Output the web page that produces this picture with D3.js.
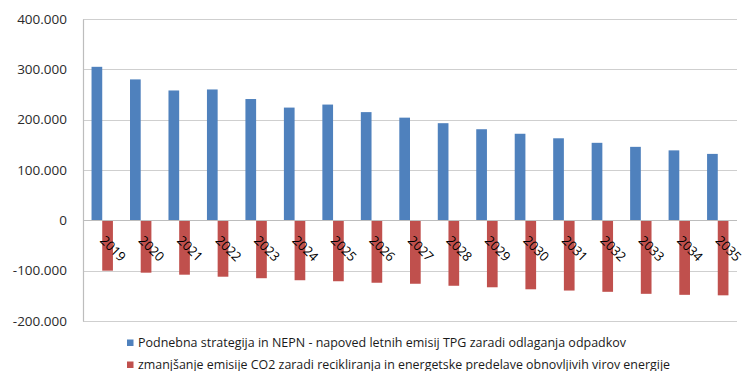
<!DOCTYPE html>
<html>
<head>
<meta charset="utf-8">
<script src="https://cdn.jsdelivr.net/npm/d3@7"></script>
<style>
  html, body { margin: 0; padding: 0; background: #fff; }
  svg { display: block; }
</style>
</head>
<body>
<svg id="chart" width="742" height="371"></svg>
<script>
const years = ["2019","2020","2021","2022","2023","2024","2025","2026","2027","2028","2029","2030","2031","2032","2033","2034","2035"];
const emissions = [305000,280000,258000,260000,241000,224000,230000,215000,204000,193000,181000,172000,163000,154000,146000,139000,132000];
const reductions = [-100000,-104000,-108000,-112000,-115000,-119000,-121000,-124000,-126000,-130000,-133000,-137000,-139500,-142000,-146000,-148000,-149000];
const seriesNames = [
  "Podnebna strategija in NEPN - napoved letnih emisij TPG zaradi odlaganja odpadkov",
  "zmanjšanje emisije CO2 zaradi recikliranja in energetske predelave obnovljivih virov energije"
];
const yTicks = [-200000,-100000,0,100000,200000,300000,400000];
const colors = ["#4F81BD", "#C0504D"];

const svg = d3.select("#chart");
const pL = 83, pR = 737, pT = 19, pB = 321;

const locale = d3.formatLocale({decimal: ",", thousands: ".", grouping: [3], currency: ["", ""], minus: "-"});
const fmt = locale.format(",d");

const y = d3.scaleLinear().domain([-200000, 400000]).range([pB, pT]);
const x0 = d3.scaleBand().domain(years).range([pL, pR]).paddingInner(0.444).paddingOuter(0.222);
const x1 = d3.scaleBand().domain([0, 1]).range([0, x0.bandwidth()]);

// gridlines
svg.append("g").selectAll("line").data(yTicks).join("line")
  .attr("x1", pL).attr("x2", pR)
  .attr("y1", d => Math.round(y(d)) + 0.5).attr("y2", d => Math.round(y(d)) + 0.5)
  .attr("stroke", "#cfcfcf").attr("stroke-width", 1.2);

// y axis
const yAxis = d3.axisLeft(y).tickValues(yTicks).tickFormat(fmt).tickSize(0).tickPadding(16);
const gy = svg.append("g").attr("transform", `translate(${pL},0)`).call(yAxis);
gy.select(".domain").attr("stroke", "#bdbdbd").attr("stroke-width", 1.2);
gy.selectAll("text").attr("font-family", "'Open Sans', sans-serif").attr("font-size", "13.5px").attr("fill", "#2b2b2b");

// bars
const data = years.map((yr, i) => ({year: yr, vals: [emissions[i], reductions[i]]}));
const groups = svg.append("g").selectAll("g").data(data).join("g")
  .attr("transform", d => `translate(${x0(d.year)},0)`);
groups.selectAll("rect").data(d => d.vals.map((v, k) => ({v, k}))).join("rect")
  .attr("x", d => x1(d.k))
  .attr("width", x1.bandwidth())
  .attr("y", d => y(Math.max(0, d.v)))
  .attr("height", d => Math.abs(y(d.v) - y(0)))
  .attr("fill", d => colors[d.k]);

// zero axis line
svg.append("line").attr("x1", pL).attr("x2", pR)
  .attr("y1", Math.round(y(0)) + 0.5).attr("y2", Math.round(y(0)) + 0.5)
  .attr("stroke", "#bdbdbd").attr("stroke-width", 1.2);

// x labels rotated
const xAxis = d3.axisBottom(x0).tickSize(0).tickPadding(0);
const gx = svg.append("g").attr("transform", `translate(0,${y(0)})`).call(xAxis);
gx.select(".domain").remove();
gx.selectAll(".tick text")
  .attr("font-family", "'Open Sans', sans-serif").attr("font-size", "13px").attr("fill", "#000")
  .attr("text-anchor", "middle").attr("dy", null)
  .attr("transform", "translate(10,29) rotate(45)")
  .attr("dominant-baseline", "middle");

// legend
const legend = svg.append("g");
const legY = [347, 369];
const legLen = [488, 532];
seriesNames.forEach((name, i) => {
  legend.append("rect").attr("x", 127).attr("y", legY[i] - 7.5).attr("width", 6.5).attr("height", 6.5).attr("fill", colors[i]);
  legend.append("text").attr("x", 138).attr("y", legY[i])
    .attr("font-family", "'Open Sans', sans-serif").attr("font-size", "12.5px").attr("fill", "#1a1a1a")
    .attr("textLength", legLen[i]).attr("lengthAdjust", "spacingAndGlyphs")
    .text(name);
});
</script>
</body>
</html>
